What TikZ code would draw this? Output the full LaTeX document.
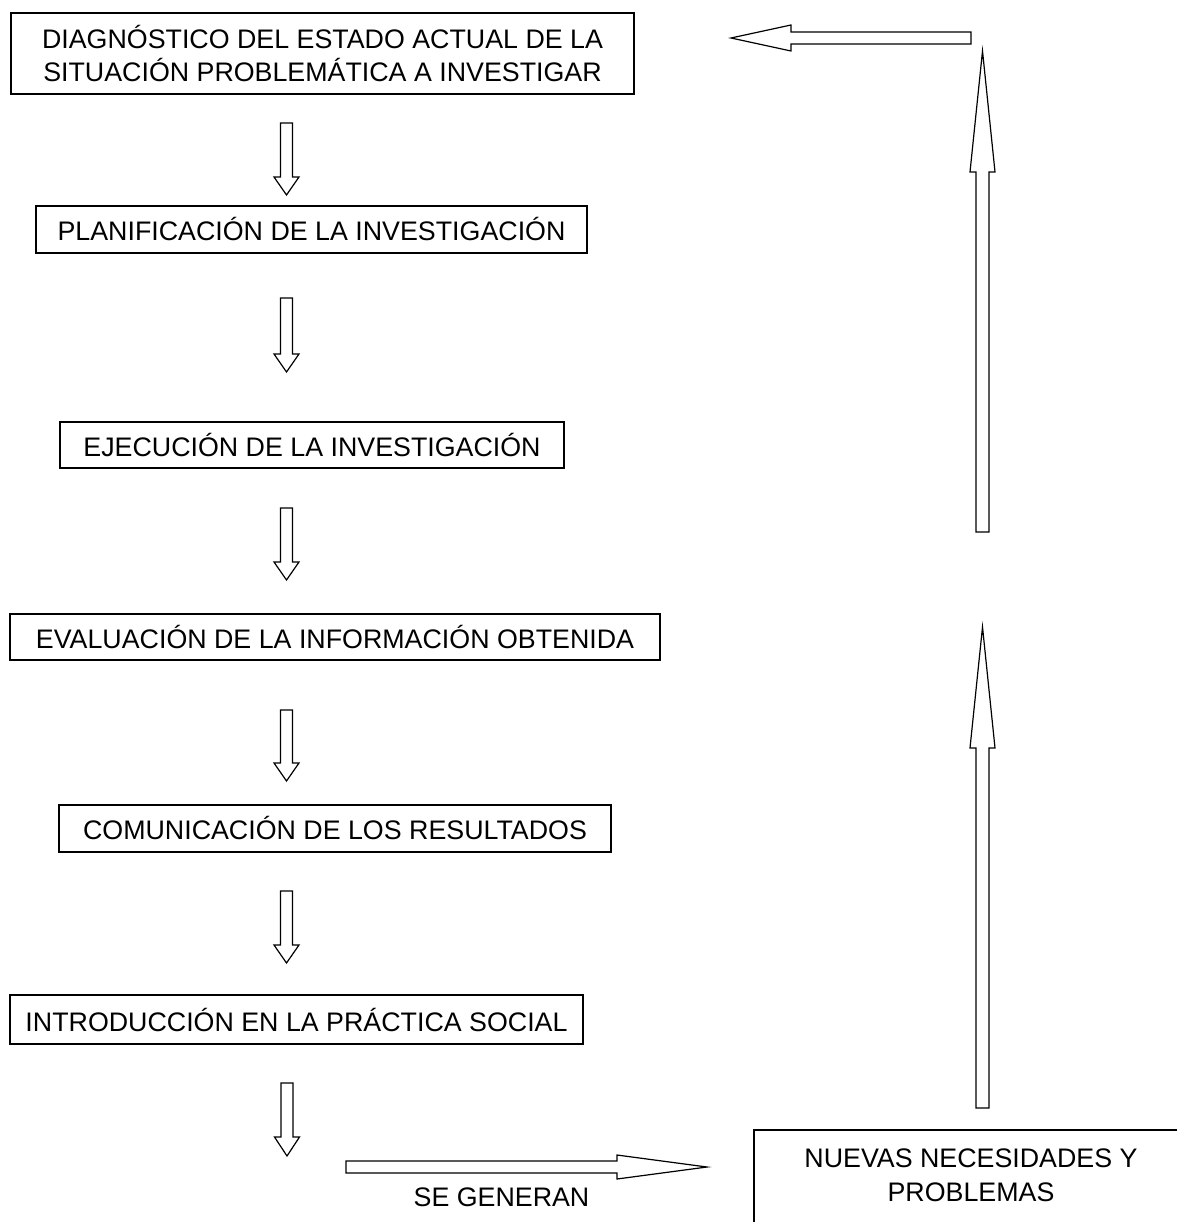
\documentclass[tikz,border=0pt]{standalone}
\usepackage{fontspec}
\setmainfont{Liberation Sans}
% block arrow: tail x, tail y, rotation, length, head length, half shaft, half head
\newcommand{\blockarr}[7]{%
  \draw[blk,shift={(#1,#2)},rotate=#3]
    (0,-#6) -- ({#4-#5},-#6) -- ({#4-#5},-#7) -- (#4,0) -- ({#4-#5},#7) -- ({#4-#5},#6) -- (0,#6) -- cycle;}
\begin{document}
\begin{tikzpicture}[x=1pt,y=-1pt,
  box/.style={draw, line width=1.2pt, inner sep=0pt, align=center, font=\fontsize{26.8}{32.5}\selectfont},
  txt/.style={inner sep=0pt, align=center, font=\fontsize{26.8}{34}\selectfont},
  blk/.style={draw, line width=1.2pt, fill=white, line join=miter}]
\useasboundingbox (0,0) rectangle (1177,1222);

\node[box, minimum width=623pt, minimum height=81pt] (diag) at (322.5,53.5)
  {DIAGNÓSTICO DEL ESTADO ACTUAL DE LA\\SITUACIÓN PROBLEMÁTICA A INVESTIGAR};
\node[box, minimum width=551pt, minimum height=47pt] (plan) at (311.5,229.5)
  {PLANIFICACIÓN DE LA INVESTIGACIÓN};
\node[box, minimum width=504pt, minimum height=46pt] (ejec) at (312,445)
  {EJECUCIÓN DE LA INVESTIGACIÓN};
\node[box, minimum width=650pt, minimum height=46pt] (eval) at (335,637)
  {EVALUACIÓN DE LA INFORMACIÓN OBTENIDA};
\node[box, minimum width=552pt, minimum height=47pt] (comu) at (335,828.5)
  {COMUNICACIÓN DE LOS RESULTADOS};
\node[box, minimum width=573pt, minimum height=49pt] (intro) at (296.5,1019.5)
  {INTRODUCCIÓN EN LA PRÁCTICA SOCIAL};

\node[txt] (nuevas) at (971,1175) {NUEVAS NECESIDADES Y\\PROBLEMAS};
\coordinate (nbl) at (754,1222);
\coordinate (ntl) at (754,1130);
\coordinate (ntr) at (1177,1130);
\draw[line width=1.2pt] (nbl) -- (ntl) -- (ntr);

\node[txt] (segen) at (501.5,1197) {SE GENERAN};

% down arrows
\blockarr{286.5}{123}{-90}{72}{18}{6}{12.5}
\blockarr{286.5}{298}{-90}{74}{18}{6}{12.5}
\blockarr{286.5}{508}{-90}{72}{18}{6}{12.5}
\blockarr{286.5}{710}{-90}{71}{18}{6}{12.5}
\blockarr{286.5}{891}{-90}{72}{18}{6}{12.5}
\blockarr{287}{1083}{-90}{73}{19}{6}{12.5}
% horizontal arrow (se generan)
\blockarr{346}{1167}{0}{361}{90}{6}{12}
% up arrows
\blockarr{982.5}{1108}{90}{481}{121}{6.5}{12.5}
\blockarr{982.5}{532}{90}{481}{121}{6.5}{12.5}
% top left arrow
\blockarr{971}{38}{180}{240}{60}{6}{13}
\end{tikzpicture}
\end{document}
